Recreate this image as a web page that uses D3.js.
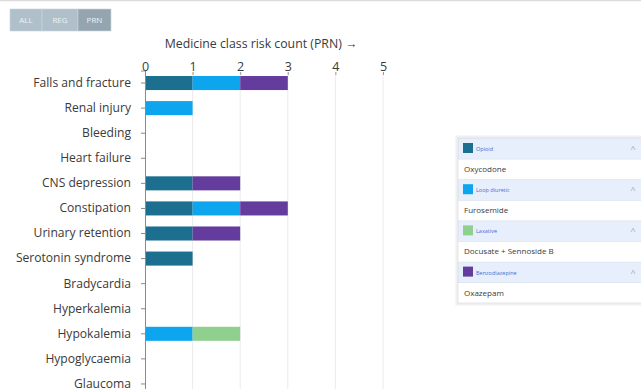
<!DOCTYPE html>
<html>
<head>
<meta charset="utf-8">
<script src="https://cdn.jsdelivr.net/npm/d3@7"></script>
<style>
  html, body { margin: 0; padding: 0; background: #fff; }
  body { width: 641px; height: 389px; overflow: hidden; font-family: "Open Sans", sans-serif; }
  svg { display: block; }
</style>
</head>
<body>
<svg id="chart" width="641" height="389"></svg>
<script>
// Risk categories (rows) and medicine classes (stack segments)
const risks = ["Falls and fracture", "Renal injury", "Bleeding", "Heart failure", "CNS depression",
  "Constipation", "Urinary retention", "Serotonin syndrome", "Bradycardia", "Hyperkalemia",
  "Hypokalemia", "Hypoglycaemia", "Glaucoma"];
const classes = ["Opioid", "Loop diuretic", "Laxative", "Benzodiazepine"];
const classColors = ["#1c6f8f", "#0ea5ef", "#8fd08f", "#643c9d"];
const medicines = ["Oxycodone", "Furosemide", "Docusate + Sennoside B", "Oxazepam"];

// Count per risk, one array per medicine class (same order as risks)
const opioid        = [1, 0, 0, 0, 1, 1, 1, 1, 0, 0, 0, 0, 0];
const loopDiuretic  = [1, 1, 0, 0, 0, 1, 0, 0, 0, 0, 1, 0, 0];
const laxative      = [0, 0, 0, 0, 0, 0, 0, 0, 0, 0, 1, 0, 0];
const benzodiazepine= [1, 0, 0, 0, 1, 1, 1, 0, 0, 0, 0, 0, 0];
const xTicks = [0, 1, 2, 3, 4, 5];
const modes = ["ALL", "REG", "PRN"];

const rows = risks.map((r, i) => ({
  risk: r,
  "Opioid": opioid[i],
  "Loop diuretic": loopDiuretic[i],
  "Laxative": laxative[i],
  "Benzodiazepine": benzodiazepine[i]
}));

const svg = d3.select("#chart");
const textColor = "#3a3a3a";

// Top rule
svg.append("line").attr("x1", 0).attr("x2", 641).attr("y1", 0.5).attr("y2", 0.5)
  .attr("stroke", "#dcdcdc").attr("stroke-width", 1.5);

// Mode toggle buttons
const btnX = d3.scaleOrdinal().domain(modes).range([10, 42, 78]);
const btnW = d3.scaleOrdinal().domain(modes).range([32, 36, 33]);
const btn = svg.append("g").selectAll("g").data(modes).join("g")
  .attr("transform", d => `translate(${btnX(d)},9)`);
btn.append("rect").attr("width", d => btnW(d)).attr("height", 22)
  .attr("fill", d => d === "PRN" ? "#94a5af" : "#b0c0ca")
  .attr("stroke", "#c9d4da").attr("stroke-width", 0.6);
btn.append("text").attr("x", d => btnW(d) / 2).attr("y", 14).attr("text-anchor", "middle")
  .attr("font-size", 8).attr("fill", "#eef3f6").text(d => d);

// Scales
const x = d3.scaleLinear().domain([0, 5]).range([145, 383]);
const y = d3.scaleBand().domain(risks).range([70.5, 396.5]).paddingInner(0.44).paddingOuter(0.22);

// Axis title
svg.append("text").attr("x", 261).attr("y", 48).attr("text-anchor", "middle")
  .attr("font-size", 12.3).attr("fill", textColor).text("Medicine class risk count (PRN) \u2192");

// Vertical gridlines
svg.append("g").selectAll("line").data(xTicks.filter(t => t > 0)).join("line")
  .attr("x1", d => x(d)).attr("x2", d => x(d)).attr("y1", 72).attr("y2", 389)
  .attr("stroke", "#ececec").attr("stroke-width", 1);

// Top axis
const xAxis = svg.append("g").attr("transform", "translate(0,75)")
  .call(d3.axisTop(x).tickValues(xTicks).tickSize(3).tickPadding(1).tickFormat(d3.format("d")));
xAxis.select(".domain").remove();
xAxis.selectAll(".tick line").attr("stroke", "#9a9a9a");
xAxis.selectAll("text").attr("font-size", 12.5).attr("fill", textColor).attr("font-family", "Open Sans, sans-serif");

// Stacked bars
const stack = d3.stack().keys(classes)(rows);
const color = d3.scaleOrdinal().domain(classes).range(classColors);
svg.append("g").selectAll("g").data(stack).join("g")
  .attr("fill", d => color(d.key))
  .selectAll("rect").data(d => d).join("rect")
  .attr("x", d => x(d[0]))
  .attr("y", d => y(d.data.risk))
  .attr("width", d => x(d[1]) - x(d[0]))
  .attr("height", y.bandwidth());

// Left axis
const yAxis = svg.append("g").attr("transform", `translate(${x(0)},0)`)
  .call(d3.axisLeft(y).tickSize(4).tickPadding(10));
yAxis.select(".domain").attr("stroke", "#8a8a8a");
yAxis.selectAll(".tick line").attr("stroke", "#8a8a8a");
yAxis.selectAll("text").attr("font-size", 12.1).attr("fill", textColor).attr("font-family", "Open Sans, sans-serif");

// Legend panel listing each class and its medicine
const panel = svg.append("g").attr("transform", "translate(458,138)");
panel.append("rect").attr("x", -1).attr("y", -1).attr("width", 186).attr("height", 167)
  .attr("fill", "none").attr("stroke", "#f0f0f0").attr("stroke-width", 3);
panel.append("rect").attr("width", 184).attr("height", 165).attr("fill", "#fff")
  .attr("stroke", "#e2e2e2").attr("stroke-width", 0.8);
const rowH = 20.6;
const item = panel.selectAll("g.item").data(classes).join("g").attr("class", "item")
  .attr("transform", (d, i) => `translate(0,${i * rowH * 2})`);
item.append("rect").attr("x", 0.5).attr("y", 0.5).attr("width", 183).attr("height", rowH)
  .attr("fill", "#e6effb").attr("stroke", "#d6dfea").attr("stroke-width", 0.6);
item.append("rect").attr("x", 5).attr("y", 5).attr("width", 10).attr("height", 10)
  .attr("fill", d => color(d));
item.append("text").attr("x", 18).attr("y", 13).attr("font-size", 5.5).attr("fill", "#3f6fd8").text(d => d);
item.append("text").attr("x", 175).attr("y", 14).attr("text-anchor", "middle").attr("font-size", 9)
  .attr("fill", "#a0a8b0").text("^");
item.append("text").attr("x", 6).attr("y", rowH + 13.5).attr("font-size", 8).attr("fill", textColor)
  .text((d, i) => medicines[i]);
</script>
</body>
</html>
